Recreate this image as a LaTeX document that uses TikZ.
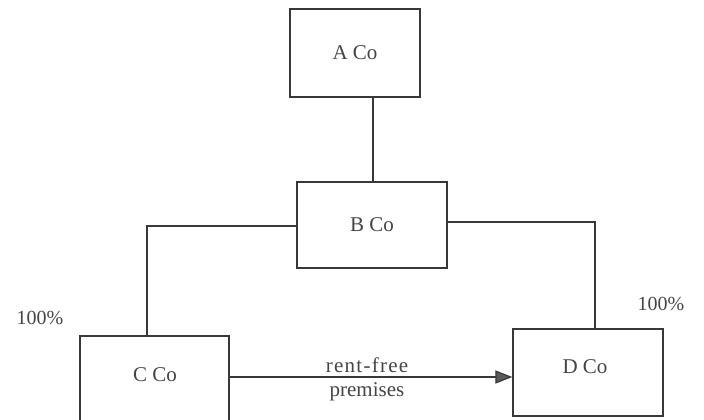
\documentclass[tikz,border=0pt]{standalone}
\usepackage{fontspec}
\setmainfont{Liberation Serif}
\newfontfamily\spacedserif[LetterSpace=6]{Liberation Serif}
\usetikzlibrary{arrows.meta}
\definecolor{ink}{gray}{0.22}
\definecolor{txt}{gray}{0.27}
\tikzset{
  cobox/.style={draw=ink, line width=1.3pt, minimum width=#1, inner sep=0pt, font=\fontsize{21}{25}\selectfont, text=txt},
  link/.style={draw=ink, line width=1.2pt},
  lbl/.style={font=\fontsize{20}{24}\selectfont, text=txt, inner sep=0pt},
}
\begin{document}
\begin{tikzpicture}[x=1pt,y=-1pt]
\useasboundingbox (0,0) rectangle (704,420);
\fill[white] (0,0) rectangle (704,420);
\begin{scope}
\clip (0,0) rectangle (704,420);
\node[cobox=130pt, minimum height=88pt] (A) at (355,53) {A Co};
\node[cobox=150pt, minimum height=86pt] (B) at (372,225) {B Co};
\node[cobox=149pt, minimum height=90pt] (C) at (154.5,381) {};
\node[cobox=150pt, minimum height=87pt] (D) at (588,372.5) {};
\node[font=\fontsize{21}{25}\selectfont, text=txt] (Ct) at (155,375) {C Co};
\node[font=\fontsize{21}{25}\selectfont, text=txt] (Dt) at (585,367) {D Co};
\end{scope}
\coordinate (BL) at (147,226);
\coordinate (BR) at (595,222);
\draw[link] (A.south -| 373,0) -- (B.north -| 373,0);
\draw[link] (B.west |- BL) -- (BL) -- (C.north -| BL);
\draw[link] (B.east |- BR) -- (BR) -- (D.north -| BR);
\draw[link, -{Triangle[length=17pt,width=13pt,fill=gray!70!black]}] (C.east |- 0,377) -- (D.west |- 0,377);
\node[lbl, font=\spacedserif\fontsize{21}{24}\selectfont] (rf) at (367,365) {rent-free};
\node[lbl, font=\fontsize{21}{24}\selectfont] (pr) at (367,392) {premises};
\node[lbl] (pl) at (40,318) {100\%};
\node[lbl] (pr2) at (661,304) {100\%};
\end{tikzpicture}
\end{document}
